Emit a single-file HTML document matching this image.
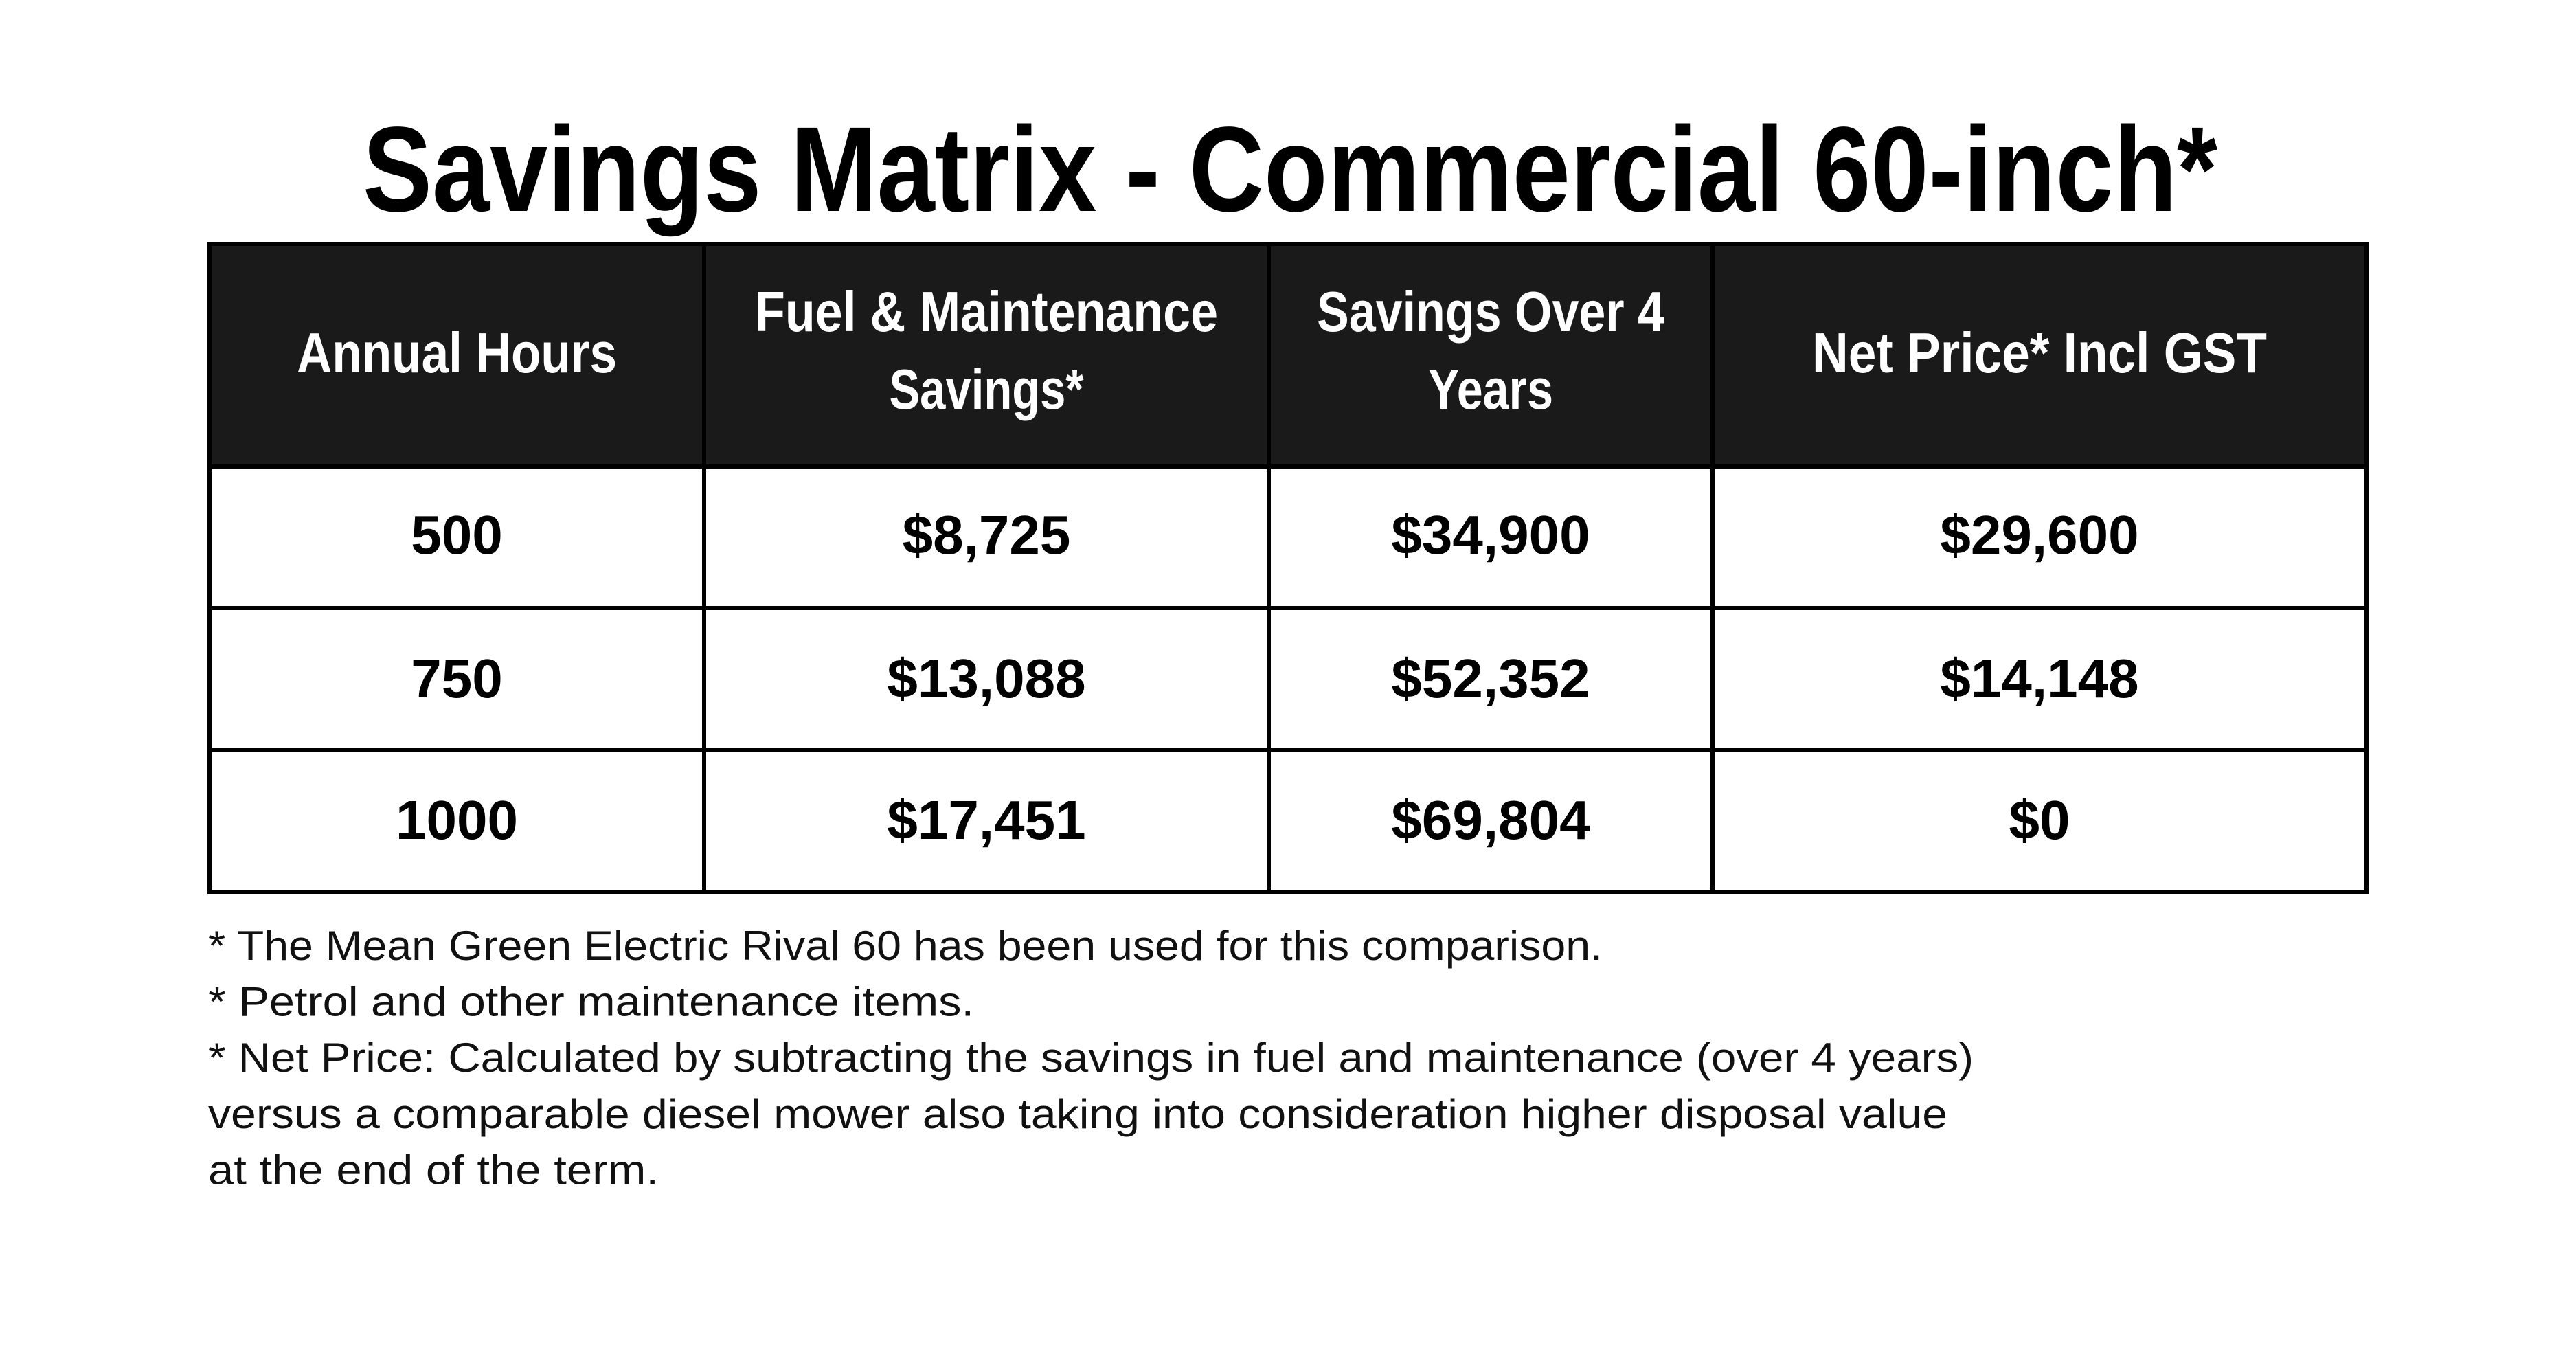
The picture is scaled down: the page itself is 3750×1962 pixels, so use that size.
<!DOCTYPE html>
<html><head><meta charset="utf-8"><style>
html,body{margin:0;padding:0;background:#fff;}
svg{display:block;}
text{font-family:"Liberation Sans",sans-serif;}
</style></head><body>
<svg id="s" width="3750" height="1962" viewBox="0 0 3750 1962" xmlns="http://www.w3.org/2000/svg">
<rect width="3750" height="1962" fill="#fff"/>
<text x="1878" y="307" text-anchor="middle" font-size="176" font-weight="bold" textLength="2700" lengthAdjust="spacingAndGlyphs">Savings Matrix - Commercial 60-inch*</text>
<g id="tbl"></g>
<g id="notes" font-size="60" fill="#111"></g>
</svg>
<script>
const headers = [["Annual Hours"],["Fuel & Maintenance","Savings*"],["Savings Over 4","Years"],["Net Price* Incl GST"]];
const headerWidths = [[466],[674,283],[506,182],[662]];
const hours = ["500","750","1000"];
const fuelSavings = ["$8,725","$13,088","$17,451"];
const fourYear = ["$34,900","$52,352","$69,804"];
const netPrice = ["$29,600","$14,148","$0"];
const notes = ["* The Mean Green Electric Rival 60 has been used for this comparison.","* Petrol and other maintenance items.","* Net Price: Calculated by subtracting the savings in fuel and maintenance (over 4 years)","versus a comparable diesel mower also taking into consideration higher disposal value","at the end of the term."];
const noteWidths = [2030,1115,2570,2532,656];

const NS="http://www.w3.org/2000/svg";
const tbl=document.getElementById('tbl');
const colX=[305,1025,1847,2493,3445];
const rowY=[355,679,885,1092,1298];
function mk(tag,attrs,parent){const e=document.createElementNS(NS,tag);for(const k in attrs)e.setAttribute(k,attrs[k]);parent.appendChild(e);return e;}
const hb=mk('rect',{x:305,y:355,width:3140,height:324,fill:'#1a1a1a'},tbl);


headers.forEach((lines,i)=>{
  const cx=(colX[i]+colX[i+1])/2;
  const ys=lines.length===1?[542]:[482,595];
  lines.forEach((ln,j)=>{
    const t=mk('text',{x:cx,y:ys[j],'text-anchor':'middle','font-size':83,'font-weight':'bold',fill:'#fff',textLength:headerWidths[i][j],lengthAdjust:'spacingAndGlyphs'},tbl);
    
    
    t.textContent=ln;
  });
});
const cols=[hours,fuelSavings,fourYear,netPrice];
const baseY=[806,1015,1221];
for(let r=0;r<hours.length;r++){
  cols.forEach((c,i)=>{
    const cx=(colX[i]+colX[i+1])/2;
    const t=mk('text',{x:cx,y:baseY[r],'text-anchor':'middle','font-size':80,'font-weight':'bold',fill:'#000'},tbl);
    
    
    t.textContent=c[r];
  });
}
rowY.forEach(y=>{const l=mk('line',{x1:302,x2:3448,y1:y,y2:y,stroke:'#000','stroke-width':6},tbl);
  
  });
colX.forEach(x=>{const l=mk('line',{x1:x,x2:x,y1:352,y2:1301,stroke:'#000','stroke-width':6},tbl);
  
  });
const ng=document.getElementById('notes');
notes.forEach((n,i)=>{
  const t=mk('text',{x:303,y:1397+i*81.6,textLength:noteWidths[i],lengthAdjust:'spacingAndGlyphs'},ng);
  
  
  t.textContent=n;
});
</script>
</body></html>
